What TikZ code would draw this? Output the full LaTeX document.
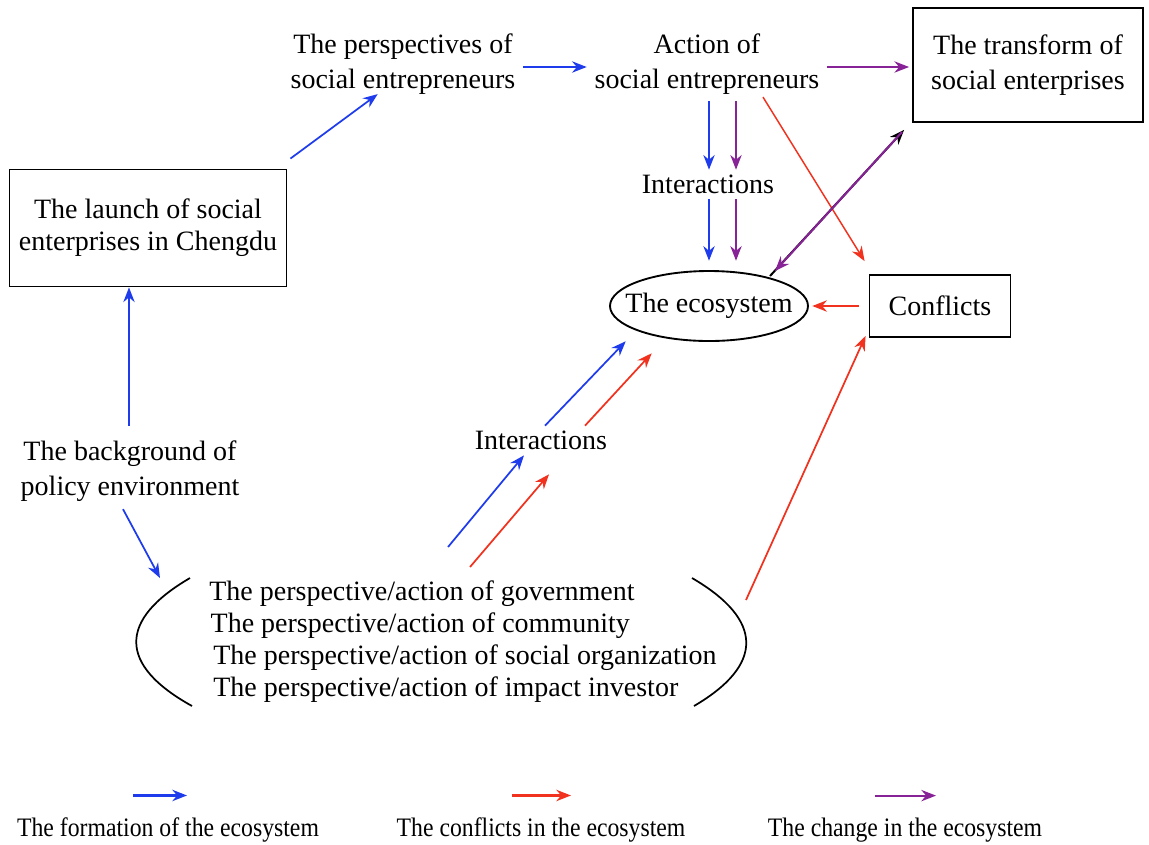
\documentclass[tikz,border=0pt]{standalone}
\usepackage{fontspec}
\setmainfont{Liberation Serif}
\usetikzlibrary{arrows.meta,shapes.geometric,calc}
\definecolor{cblue}{RGB}{30,60,235}
\definecolor{cred}{RGB}{240,50,30}
\definecolor{cpurple}{RGB}{135,35,150}
\begin{document}
\begin{tikzpicture}[x=0.75pt,y=-0.75pt,
  txt/.style={font=\fontsize{21}{26}\selectfont, align=center, inner sep=2pt},
  boxnode/.style={txt, draw, line width=1.4pt, inner sep=0pt},
  arr/.style={line width=1.3pt, -{Stealth[length=11pt,width=8.5pt]}},
  leg/.style={font=\fontsize{20}{24}\selectfont, xscale=0.89, inner sep=0pt}]
\useasboundingbox (0,0) rectangle (1149,844);
% nodes
\node[txt] (persp) at (403,64) {The perspectives of\\social entrepreneurs};
\node[txt] (action) at (707,64) {Action of\\social entrepreneurs};
\node[boxnode, minimum width=230*0.75pt, minimum height=114*0.75pt] (transform) at (1028,65) {The transform of\\social enterprises};
\node[boxnode, font=\fontsize{21}{24}\selectfont, minimum width=277*0.75pt, minimum height=117*0.75pt] (launch) at (148,228) {The launch of social\\enterprises in Chengdu};
\node[txt] (inter1) at (708,184) {Interactions};
\node[txt, minimum width=198*0.75pt, minimum height=70*0.75pt, inner sep=0pt] (eco) at (709,306) {The ecosystem};
\draw[line width=1.4pt] (eco.center) ellipse (99 and 35);
\node[boxnode, minimum width=141*0.75pt, minimum height=62*0.75pt] (conf) at (940,306) {Conflicts};
\node[txt] (inter2) at (541,440) {Interactions};
\node[txt] (bg) at (130,471) {The background of\\policy environment};
\node[txt, align=left, font=\fontsize{21}{24}\selectfont] (group) at (463,642) {The perspective/action of government\\
\hspace{1pt}The perspective/action of community\\
\hspace{3pt}The perspective/action of social organization\\
\hspace{3pt}The perspective/action of impact investor};
% parentheses
\draw[line width=1.3pt] (190,578) .. controls (118,620) and (118,665) .. (192,706);
\draw[line width=1.3pt] (692,578) .. controls (764,620) and (764,665) .. (694,706);
\coordinate (grpL) at (160,578);
\coordinate (grpTop1) at (448,547);
\coordinate (grpTop2) at (470,567);
\coordinate (grpR) at (746,600);
\coordinate (ecoTR) at ($(eco.center)+(61,-30)$);
% arrows
\draw[arr, cblue] (launch.north east) ++(3,-10) -- ($(persp.south west)+(90,-3)$);
\draw[arr, cblue] ($(persp.east)+(5,3)$) -- ($(action.west)+(-5,3)$);
\draw[arr, cpurple] ($(action.east)+(5,3)$) -- ($(transform.west)+(-3,2)$);
\draw[arr, cblue] ($(action.south)+(2,4)$) -- ($(inter1.north)+(1,-2)$);
\draw[arr, cpurple] ($(action.south)+(29,4)$) -- ($(inter1.north)+(28,-2)$);
\draw[arr, cblue] ($(inter1.south)+(1,3)$) -- ($(eco.north)+(0,-10)$);
\draw[arr, cpurple] ($(inter1.south)+(28,3)$) -- ($(eco.north)+(27,-10)$);
\draw[arr, cred, line width=1.1pt] ($(action.south)+(56,0)$) -- ($(conf.north west)+(-4,-13)$);
\draw[arr, black, line width=1.5pt] (ecoTR) -- ($(transform.south west)+(-8,7)$);
\draw[arr, cpurple, line width=1.5pt] ($(transform.south west)+(-10,9)$) -- ($(ecoTR)+(5,-5)$);
\draw[arr, cred] ($(conf.west)+(-10,0)$) -- ($(eco.east |- conf.west)+(4,0)$);
\draw[arr, cblue] (bg.north) ++(-1,-12) -- (launch.south -| {(129,0)});
\draw[arr, cblue] ($(bg.south)+(-7,5)$) -- (grpL);
\draw[arr, cblue] (grpTop1) -- ($(inter2.south)+(-17,3)$);
\draw[arr, cred] (grpTop2) -- ($(inter2.south)+(8,22)$);
\draw[arr, cblue] ($(inter2.north)+(4,-2)$) -- ($(eco.south west)+(16,0)$);
\draw[arr, cred] ($(inter2.north)+(44,-2)$) -- ($(eco.south west)+(42,12)$);
\draw[arr, cred] (grpR) -- ($(conf.south west)+(-3,-2)$);
% legend
\node[leg] (lt1) at (168,830) {The formation of the ecosystem};
\node[leg] (lt2) at (541,830) {The conflicts in the ecosystem};
\node[leg] (lt3) at (905,830) {The change in the ecosystem};
\draw[arr, cblue, line width=1.6pt] ($(lt1.north)+(-35,-22)$) -- ($(lt1.north)+(19,-22)$);
\draw[arr, cred, line width=1.6pt] ($(lt2.north)+(-29,-22)$) -- ($(lt2.north)+(30,-22)$);
\draw[arr, cpurple, line width=1.6pt] ($(lt3.north)+(-30,-22)$) -- ($(lt3.north)+(31,-22)$);
\end{tikzpicture}
\end{document}
